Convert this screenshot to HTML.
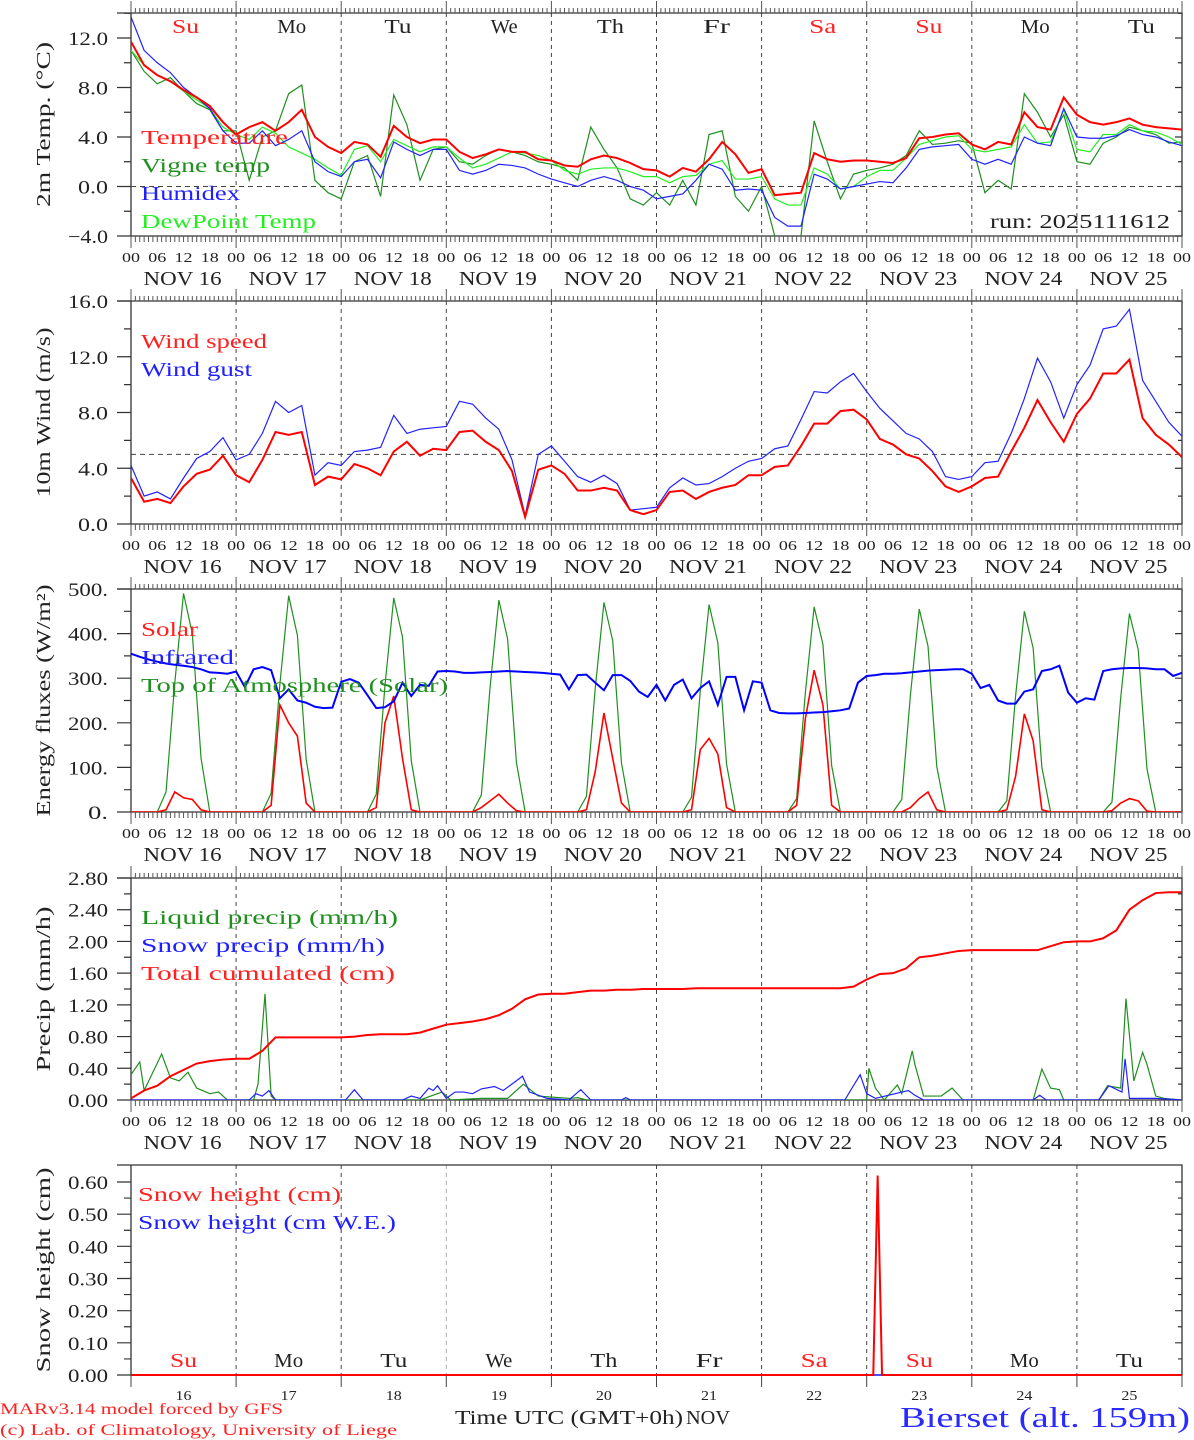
<!DOCTYPE html>
<html><head><meta charset="utf-8"><title>MAR forecast Bierset</title>
<style>
html,body{margin:0;padding:0;background:#fff;}
svg{display:block;font-family:"Liberation Serif","DejaVu Serif",serif;}
</style></head>
<body>
<svg id="chart" width="1194" height="1440" viewBox="0 0 1194 1440" xmlns="http://www.w3.org/2000/svg"></svg>
<script>
// ---------- DATA ----------
const dayNames = ["Su","Mo","Tu","We","Th","Fr","Sa","Su","Mo","Tu"];
const dayColors = ["#ff2020","#222","#222","#222","#222","#222","#ff2020","#ff2020","#222","#222"];
const dateLabels = ["NOV 16","NOV 17","NOV 18","NOV 19","NOV 20","NOV 21","NOV 22","NOV 23","NOV 24","NOV 25"];
const dayNumbers = ["16","17","18","19","20","21","22","23","24","25"];
const hourLabels = ["00","06","12","18"];

// Panel 1: 3-hourly (°C)
const temperature = [11.7,9.8,9.0,8.5,7.8,7.2,6.5,5.2,
 4.2,4.8,5.2,4.5,5.2,6.2,4.0,3.2,
 2.7,3.6,3.4,2.4,4.9,4.0,3.5,3.8,
 3.8,2.8,2.3,2.6,3.0,2.8,2.8,2.2,
 2.1,1.7,1.6,2.2,2.5,2.3,1.9,1.4,
 1.3,0.8,1.5,1.2,2.2,3.6,2.6,1.1,
 1.4,-0.7,-0.6,-0.5,2.7,2.2,2.0,2.1,
 2.1,2.0,1.9,2.3,3.9,4.0,4.2,4.3,
 3.4,3.0,3.6,3.4,6.0,4.8,4.6,7.2,
 5.8,5.2,5.0,5.2,5.5,5.0,4.8,4.7,4.6];
const vigneTemp = [11.0,9.3,8.3,8.8,7.7,6.7,6.2,4.5,
 4.5,0.5,4.0,4.5,7.5,8.2,0.5,-0.5,
 -1.0,2.0,2.5,-0.8,7.4,5.0,0.5,3.0,
 3.2,2.0,1.8,2.5,3.0,2.8,2.5,2.0,
 1.8,1.5,0.5,4.8,3.0,1.5,-1.0,-1.5,
 -0.5,-1.5,0.5,-1.5,4.2,4.5,-0.8,-2.0,
 0.0,-4.0,-5.0,-4.0,5.3,2.0,-1.0,1.0,
 1.3,1.5,1.8,2.5,4.5,3.4,3.5,3.7,
 3.5,-0.5,0.5,-0.2,7.5,6.0,4.0,5.8,
 2.0,1.8,3.5,4.0,4.8,4.5,4.2,3.5,3.6];
const humidex = [13.7,11.0,10.0,9.2,8.0,7.2,6.3,4.5,
 3.5,3.5,4.5,3.3,3.8,4.5,2.0,1.2,
 0.8,2.0,2.2,0.7,3.6,3.0,2.5,3.0,
 3.0,1.3,1.0,1.3,1.8,1.7,1.5,1.0,
 0.6,0.3,0.0,0.5,0.8,0.5,0.0,-0.3,
 -1.0,-0.8,-0.6,0.5,1.8,1.4,-0.3,-0.2,
 -0.3,-2.5,-3.2,-3.2,1.0,0.6,-0.2,0.0,
 0.2,0.4,0.3,1.5,3.0,3.2,3.3,3.4,
 2.2,1.8,2.2,1.8,4.0,3.5,3.3,6.3,
 4.0,3.9,3.9,4.1,4.6,4.2,4.0,3.6,3.3];
const dewPoint = [11.0,9.8,9.0,8.5,7.7,7.0,6.3,4.8,
 4.2,3.8,4.8,4.3,3.2,2.7,2.2,1.5,
 0.9,3.0,3.3,2.0,3.8,3.3,2.8,3.2,
 3.2,2.3,1.5,1.8,2.3,2.8,2.7,2.5,
 2.1,1.3,1.0,1.4,1.5,1.5,1.2,0.8,
 0.8,0.3,0.8,0.9,1.8,2.1,0.6,0.6,
 0.8,-1.0,-1.5,-1.5,1.5,1.0,-0.2,0.0,
 0.8,1.3,1.3,2.3,3.4,3.7,4.0,4.1,
 3.0,2.8,3.0,3.2,5.0,3.5,3.6,6.2,
 3.0,2.8,4.2,4.2,5.0,4.5,4.4,4.0,3.4];

// Panel 2: 3-hourly (m/s)
const windSpeed = [3.3,1.6,1.8,1.5,2.7,3.6,3.9,4.9,
 3.5,3.0,4.6,6.6,6.4,6.6,2.8,3.4,
 3.2,4.3,4.0,3.5,5.2,5.9,4.9,5.4,
 5.3,6.6,6.7,5.9,5.3,3.8,0.5,3.9,
 4.2,3.6,2.4,2.4,2.6,2.4,1.0,0.7,
 1.0,2.3,2.4,1.8,2.3,2.6,2.8,3.5,
 3.5,4.1,4.2,5.6,7.2,7.2,8.1,8.2,
 7.5,6.1,5.7,5.0,4.7,3.8,2.7,2.3,
 2.7,3.3,3.4,5.2,6.9,8.9,7.3,5.9,
 7.9,9.0,10.8,10.8,11.8,7.6,6.4,5.7,4.8];
const windGust = [4.2,2.0,2.3,1.8,3.3,4.7,5.2,6.2,
 4.6,5.0,6.5,8.8,8.0,8.5,3.5,4.4,
 4.2,5.2,5.3,5.5,7.8,6.5,6.8,6.9,
 7.0,8.8,8.6,7.6,6.8,4.6,0.6,5.0,
 5.6,4.5,3.4,3.0,3.5,2.9,1.0,1.1,
 1.2,2.6,3.3,2.8,2.9,3.4,4.0,4.5,
 4.7,5.4,5.6,7.5,9.5,9.4,10.2,10.8,
 9.5,8.3,7.4,6.5,6.1,5.2,3.4,3.2,
 3.4,4.4,4.5,6.5,9.0,11.9,10.2,7.6,
 10.0,11.4,14.0,14.2,15.4,10.3,8.8,7.3,6.3];
const windRef = [5.0];

// Panel 3: 2-hourly (W/m2)
const toaSolar = [0,0,0,0,45,290,490,400,120,0,0,0,
 0,0,0,0,42,287,485,396,118,0,0,0,
 0,0,0,0,40,284,480,392,115,0,0,0,
 0,0,0,0,38,280,475,388,112,0,0,0,
 0,0,0,0,35,276,470,384,110,0,0,0,
 0,0,0,0,33,272,465,380,107,0,0,0,
 0,0,0,0,30,268,460,376,104,0,0,0,
 0,0,0,0,28,264,455,372,102,0,0,0,
 0,0,0,0,25,260,450,368,100,0,0,0,
 0,0,0,0,22,256,445,364,97,0,0,0,0];
const solar = [0,0,0,0,5,45,32,28,5,0,0,0,
 0,0,0,0,15,240,200,170,20,0,0,0,
 0,0,0,0,10,200,260,120,5,0,0,0,
 0,0,0,0,10,25,40,20,3,0,0,0,
 0,0,0,0,5,90,222,120,20,0,0,0,
 0,0,0,0,5,140,165,130,10,0,0,0,
 0,0,0,0,15,210,318,240,15,0,0,0,
 0,0,0,0,0,10,30,45,5,0,0,0,
 0,0,0,0,5,80,220,160,5,0,0,0,
 0,0,0,0,3,20,30,25,2,0,0,0,0];
const infrared = [355,348,342,337,333,330,328,325,320,313,312,310,
 315,280,320,325,318,255,275,250,245,236,233,234,
 292,298,290,262,233,235,248,290,260,285,283,315,
 316,315,312,312,313,314,315,316,315,314,313,312,
 310,308,275,307,308,290,273,307,307,294,270,258,
 285,250,285,297,255,278,293,240,303,303,228,293,
 290,228,222,221,221,222,223,224,226,228,232,290,
 305,307,310,310,311,313,315,317,318,319,320,320,
 310,278,285,250,243,243,270,275,316,320,328,268,
 245,255,252,316,320,322,323,323,322,320,320,305,312];

// Panel 4: cumulated 3-hourly, events (hour, value)
const totalCumulated = [0.02,0.12,0.18,0.30,0.38,0.46,0.49,0.51,
 0.52,0.52,0.62,0.79,0.79,0.79,0.79,0.79,
 0.79,0.80,0.82,0.83,0.83,0.83,0.85,0.90,
 0.95,0.97,0.99,1.02,1.07,1.15,1.27,1.33,
 1.34,1.34,1.36,1.38,1.38,1.39,1.39,1.40,
 1.40,1.40,1.40,1.41,1.41,1.41,1.41,1.41,
 1.41,1.41,1.41,1.41,1.41,1.41,1.41,1.43,
 1.52,1.59,1.60,1.66,1.80,1.82,1.85,1.88,
 1.89,1.89,1.89,1.89,1.89,1.89,1.94,1.99,
 2.00,2.00,2.04,2.14,2.40,2.52,2.61,2.62,2.62];
const liquidHours = [0,2,3,7,9,11,13,15,18,20,22,28,29,30.6,32,33,66,69,71,73,80,86,89.6,93,100,102,104,168,168.5,170,172,175,176,178.4,179,181,185,187.5,190,206,208,210,212,213,221,223,226,227.2,229,231,232,234,236,240];
const liquidVals  = [0.32,0.48,0.12,0.58,0.28,0.24,0.35,0.15,0.08,0.10,0.00,0.00,0.20,1.34,0.05,0.00,0.00,0.06,0.10,0.00,0.02,0.02,0.20,0.05,0.02,0.03,0.00,0.00,0.40,0.15,0.00,0.19,0.08,0.62,0.45,0.05,0.05,0.15,0.00,0.00,0.39,0.15,0.13,0.00,0.00,0.18,0.15,1.28,0.24,0.60,0.45,0.05,0.02,0.00];
const snowHours = [0,27,28.5,30,31.5,33,49,51,53,62,64,66,68,69,70,72,74,76,78,80,83,85,89.4,91,93,95,100,102.7,105,112,113,114,163,166.5,168,170,177.5,179,181,206,207.5,209,221,223.3,226.3,227,228,234,240];
const snowVals  = [0,0,0.08,0.05,0.12,0,0,0.13,0,0,0.05,0.02,0.15,0.12,0.18,0.02,0.10,0.10,0.08,0.14,0.17,0.12,0.30,0.10,0.06,0.02,0,0.13,0,0,0.03,0,0,0.32,0.08,0.02,0.12,0.06,0,0,0.06,0,0,0.18,0.10,0.52,0.02,0.02,0];

// Panel 5: snow height (hour, cm)
const snowHeightHours = [0,169.5,170.5,171.5,240];
const snowHeightVals = [0,0,0.62,0,0];
const snowWEHours = [0,240];
const snowWEVals = [0,0];

// Tick labels
const p1Ticks = [-4,0,4,8,12];
const p1TickLabels = ["\u22124.0","0.0","4.0","8.0","12.0"];
const p2Ticks = [0,4,8,12,16];
const p2TickLabels = ["0.0","4.0","8.0","12.0","16.0"];
const p3Ticks = [0,100,200,300,400,500];
const p3TickLabels = ["0.","100.","200.","300.","400.","500."];
const p4Ticks = [0,0.4,0.8,1.2,1.6,2.0,2.4,2.8];
const p4TickLabels = ["0.00","0.40","0.80","1.20","1.60","2.00","2.40","2.80"];
const p5Ticks = [0,0.1,0.2,0.3,0.4,0.5,0.6];
const p5TickLabels = ["0.00","0.10","0.20","0.30","0.40","0.50","0.60"];

// ---------- DRAWING ----------
const NS = "http://www.w3.org/2000/svg";
const svg = document.getElementById('chart');
function el(tag, attrs, parent){
  const e = document.createElementNS(NS, tag);
  for (const k in attrs) e.setAttribute(k, attrs[k]);
  (parent || svg).appendChild(e);
  return e;
}
const X0 = 131, X1 = 1182, HOURS = 240;
function xOf(h){ return X0 + h * (X1 - X0) / HOURS; }
function makeY(vA, pA, vB, pB){ return v => pA + (v - vA) * (pB - pA) / (vB - vA); }

const panels = [
 {top:13, bottom:236, y:makeY(-4,236,12,38), lo:-4, hi:14, minor:2, ticks:p1Ticks, labels:p1TickLabels, title:"2m Temp. (\u00B0C)", titleLen:165, hourTicks:true},
 {top:301, bottom:524, y:makeY(0,524,16,301), lo:0, hi:16, minor:2, ticks:p2Ticks, labels:p2TickLabels, title:"10m Wind (m/s)", titleLen:170, hourTicks:true},
 {top:589, bottom:812, y:makeY(0,812,500,589), lo:0, hi:500, minor:50, ticks:p3Ticks, labels:p3TickLabels, title:"Energy fluxes (W/m\u00B2)", titleLen:232, hourTicks:true},
 {top:878, bottom:1100, y:makeY(0,1100,2.8,878), lo:0, hi:2.8, minor:0.2, ticks:p4Ticks, labels:p4TickLabels, title:"Precip (mm/h)", titleLen:165, hourTicks:true},
 {top:1165, bottom:1375, y:makeY(0,1375,0.6,1182), lo:0, hi:0.64, minor:0.05, ticks:p5Ticks, labels:p5TickLabels, title:"Snow height (cm)", titleLen:205, hourTicks:false}
];
const panelNames = ["temperature-panel","wind-panel","energy-panel","precip-panel","snow-panel"];

function text(str, x, y, size, color, anchor, len, parent){
  const a = {x:x, y:y, 'font-size':size, fill:color, 'text-anchor':anchor};
  if (len) { a.textLength = len; a.lengthAdjust = 'spacingAndGlyphs'; }
  const t = el('text', a, parent);
  t.textContent = str;
  return t;
}

panels.forEach((P, pi) => {
  const g = el('g', {});
  
  
  for (let d = 1; d < 10; d++) {
    const ln = el('line', {x1:xOf(d*24), x2:xOf(d*24), y1:P.top, y2:P.bottom, stroke: pi===4 && d===3 ? '#aaa' : '#444', 'stroke-width':1, 'stroke-dasharray':'4,4'}, g);
    
    
  }
  const fr = el('path', {d:`M117 ${P.top} H${X1} V${P.bottom} H${X0} V${P.top}`, fill:'none', stroke:'#333', 'stroke-width':1.3}, g);
  
  
  let tk = '';
  for (let v = P.lo; v <= P.hi + 1e-9; v += P.minor) {
    const yy = P.y(v);
    if (yy < P.top - 0.5) continue;
    const isMajor = P.ticks.some(t => Math.abs(t - v) < 1e-6);
    tk += `M${isMajor ? 117 : 124} ${yy} H${X0} M${X1} ${yy} H${X1-(isMajor?7:4)} `;
  }
  const yt = el('path', {d:tk, stroke:'#333', 'stroke-width':1.2, fill:'none'}, g);
  
  
  P.ticks.forEach((v, i) => {
    const lab = P.labels[i];
    const t = text(lab, 108, P.y(v) + 7, 19, '#222', 'end', lab.length * 10, g);
    
    
  });
  const cy = (P.top + P.bottom) / 2;
  const yt2 = el('text', {x:50, y:cy, 'font-size':20, fill:'#222', 'text-anchor':'middle', transform:`rotate(-90 50 ${cy})`, textLength:P.titleLen, lengthAdjust:'spacingAndGlyphs'}, g);
  yt2.textContent = P.title;
  
  
  if (P.hourTicks) {
    let hd = '';
    for (let h = 0; h <= 240; h++) {
      const xx = xOf(h), day = h % 24 === 0;
      hd += `M${xx} ${P.top} V${P.top - (day ? 12 : 5)} M${xx} ${P.bottom} V${P.bottom + (day ? 12 : 6)} `;
    }
    const ht = el('path', {d:hd, stroke:'#555', 'stroke-width':1, fill:'none'}, g);
    
    
    for (let h = 0; h <= 240; h += 6) {
      const t = text(hourLabels[(h/6)%4], xOf(h), P.bottom + 26, 14, '#222', 'middle', 18, g);
      
      
    }
    for (let d = 0; d < 10; d++) {
      const t = text(dateLabels[d], xOf(d*24+12) - 1, P.bottom + 49, 20, '#222', 'middle', 78, g);
      
      
    }
  } else {
    let hd = '';
    for (let d = 0; d <= 10; d++) hd += `M${xOf(d*24)} ${P.bottom} V${P.bottom + 12} `;
    const ht = el('path', {d:hd, stroke:'#444', 'stroke-width':1, fill:'none'}, g);
    
    
    for (let d = 0; d < 10; d++) {
      const t = text(dayNumbers[d], xOf(d*24+12), P.bottom + 25, 14, '#222', 'middle', 16, g);
      
      
    }
  }
});

const zl = el('line', {x1:X0, x2:X1, y1:panels[0].y(0), y2:panels[0].y(0), stroke:'#444', 'stroke-dasharray':'5,4'});


const wl = el('line', {x1:X0, x2:X1, y1:panels[1].y(windRef[0]), y2:panels[1].y(windRef[0]), stroke:'#444', 'stroke-dasharray':'5,4'});



for (let d = 0; d < 10; d++) {
  const t = text(dayNames[d], xOf(d*24+12) + 2 + d * 1.1, 33, 20, dayColors[d], 'middle', dayNames[d]==='Mo'?29:27);
  
  
  const t2 = text(dayNames[d], xOf(d*24+12), 1367, 20, dayColors[d], 'middle', dayNames[d]==='Mo'?29:27);
  
  
}

function seriesPath(hours, vals, yf, lo, hi){
  let d = '';
  vals.forEach((v, i) => {
    const vv = Math.max(lo, Math.min(hi, v));
    d += (i ? 'L' : 'M') + xOf(hours(i)).toFixed(2) + ' ' + yf(vv).toFixed(2) + ' ';
  });
  return d;
}
const every = step => i => i * step;
function clipFor(P, id){
  const cp = el('clipPath', {id:id});
  el('rect', {x:X0, y:P.top, width:X1-X0, height:P.bottom-P.top}, cp);
  return `url(#${id})`;
}
const c1 = clipFor(panels[0], 'c1'), c2 = clipFor(panels[1], 'c2'), c3 = clipFor(panels[2], 'c3'), c4 = clipFor(panels[3], 'c4'), c5 = clipFor(panels[4], 'c5');

const s1a = el('path', {d:seriesPath(every(3), vigneTemp, panels[0].y, -10, 20), stroke:'#1f8f1f', 'stroke-width':1.2, fill:'none', 'clip-path':c1});


const s1b = el('path', {d:seriesPath(every(3), dewPoint, panels[0].y, -10, 20), stroke:'#22ee22', 'stroke-width':1.2, fill:'none', 'clip-path':c1});


const s1c = el('path', {d:seriesPath(every(3), humidex, panels[0].y, -10, 20), stroke:'#2222ff', 'stroke-width':1.2, fill:'none', 'clip-path':c1});


const s1d = el('path', {d:seriesPath(every(3), temperature, panels[0].y, -10, 20), stroke:'#ff0000', 'stroke-width':2, fill:'none', 'clip-path':c1});



const s2a = el('path', {d:seriesPath(every(3), windGust, panels[1].y, 0, 16), stroke:'#2222ff', 'stroke-width':1.2, fill:'none', 'clip-path':c2});


const s2b = el('path', {d:seriesPath(every(3), windSpeed, panels[1].y, 0, 16), stroke:'#ff0000', 'stroke-width':2, fill:'none', 'clip-path':c2});



const s3a = el('path', {d:seriesPath(every(2), toaSolar, panels[2].y, 0, 500), stroke:'#1f8f1f', 'stroke-width':1.2, fill:'none', 'clip-path':c3});


const s3b = el('path', {d:seriesPath(every(2), solar, panels[2].y, 0, 500), stroke:'#ff0000', 'stroke-width':1.6, fill:'none', 'clip-path':c3});


const s3c = el('path', {d:seriesPath(every(2), infrared, panels[2].y, 0, 500), stroke:'#0000ff', 'stroke-width':2, fill:'none', 'clip-path':c3});



const s4a = el('path', {d:seriesPath(i => liquidHours[i], liquidVals, panels[3].y, 0, 2.8), stroke:'#1f8f1f', 'stroke-width':1.2, fill:'none', 'clip-path':c4});


const s4b = el('path', {d:seriesPath(i => snowHours[i], snowVals, panels[3].y, 0, 2.8), stroke:'#2222ff', 'stroke-width':1.2, fill:'none', 'clip-path':c4});


const s4c = el('path', {d:seriesPath(every(3), totalCumulated, panels[3].y, 0, 2.8), stroke:'#ff0000', 'stroke-width':2, fill:'none', 'clip-path':c4});



const s5a = el('path', {d:seriesPath(i => snowWEHours[i], snowWEVals, panels[4].y, 0, 0.7), stroke:'#2222ff', 'stroke-width':1.5, fill:'none'});


const s5b = el('path', {d:seriesPath(i => snowHeightHours[i], snowHeightVals, panels[4].y, 0, 0.7), stroke:'#ff0000', 'stroke-width':2, fill:'none'});



function legend(str, x, y, color, len, name){
  const t = text(str, x, y, 20, color, 'start', len);
  
  
}
legend('Temperature', 141, 144, '#ff2020', 147, 'legend-temperature');
legend('Vigne temp', 141, 172, '#1f8f1f', 129, 'legend-vigne-temp');
legend('Humidex', 141, 200, '#2020ff', 99, 'legend-humidex');
legend('DewPoint Temp', 141, 228, '#22ee22', 175, 'legend-dewpoint');
legend('run: 2025111612', 990, 228, '#222', 180, 'run-label');
legend('Wind speed', 141, 348, '#ff2020', 126, 'legend-wind-speed');
legend('Wind gust', 141, 376, '#2020ff', 111, 'legend-wind-gust');
legend('Solar', 141, 636, '#ff2020', 57, 'legend-solar');
legend('Infrared', 141, 664, '#2020ff', 93, 'legend-infrared');
legend('Top of Atmosphere (Solar)', 141, 692, '#1f8f1f', 307, 'legend-toa');
legend('Liquid precip (mm/h)', 141, 924, '#1f8f1f', 257, 'legend-liquid-precip');
legend('Snow precip (mm/h)', 141, 952, '#2020ff', 244, 'legend-snow-precip');
legend('Total cumulated (cm)', 141, 980, '#ff2020', 254, 'legend-total-cumulated');
legend('Snow height (cm)', 138, 1201, '#ff2020', 203, 'legend-snow-height');
legend('Snow height (cm W.E.)', 138, 1229, '#2020ff', 258, 'legend-snow-we');

const f1 = text('Time UTC (GMT+0h)', 455, 1424, 20, '#222', 'start', 228);


const f2 = text('NOV', 686, 1424, 20, '#222', 'start', 44);


const f3 = text('MARv3.14 model forced by GFS', 0, 1414, 16, '#ff2020', 'start', 283);


const f4 = text('(c) Lab. of Climatology, University of Liege', 0, 1435, 16, '#ff2020', 'start', 397);


const f5 = text('Bierset (alt. 159m)', 900, 1427, 28, '#2a2aff', 'start', 290);


</script>
</body></html>
